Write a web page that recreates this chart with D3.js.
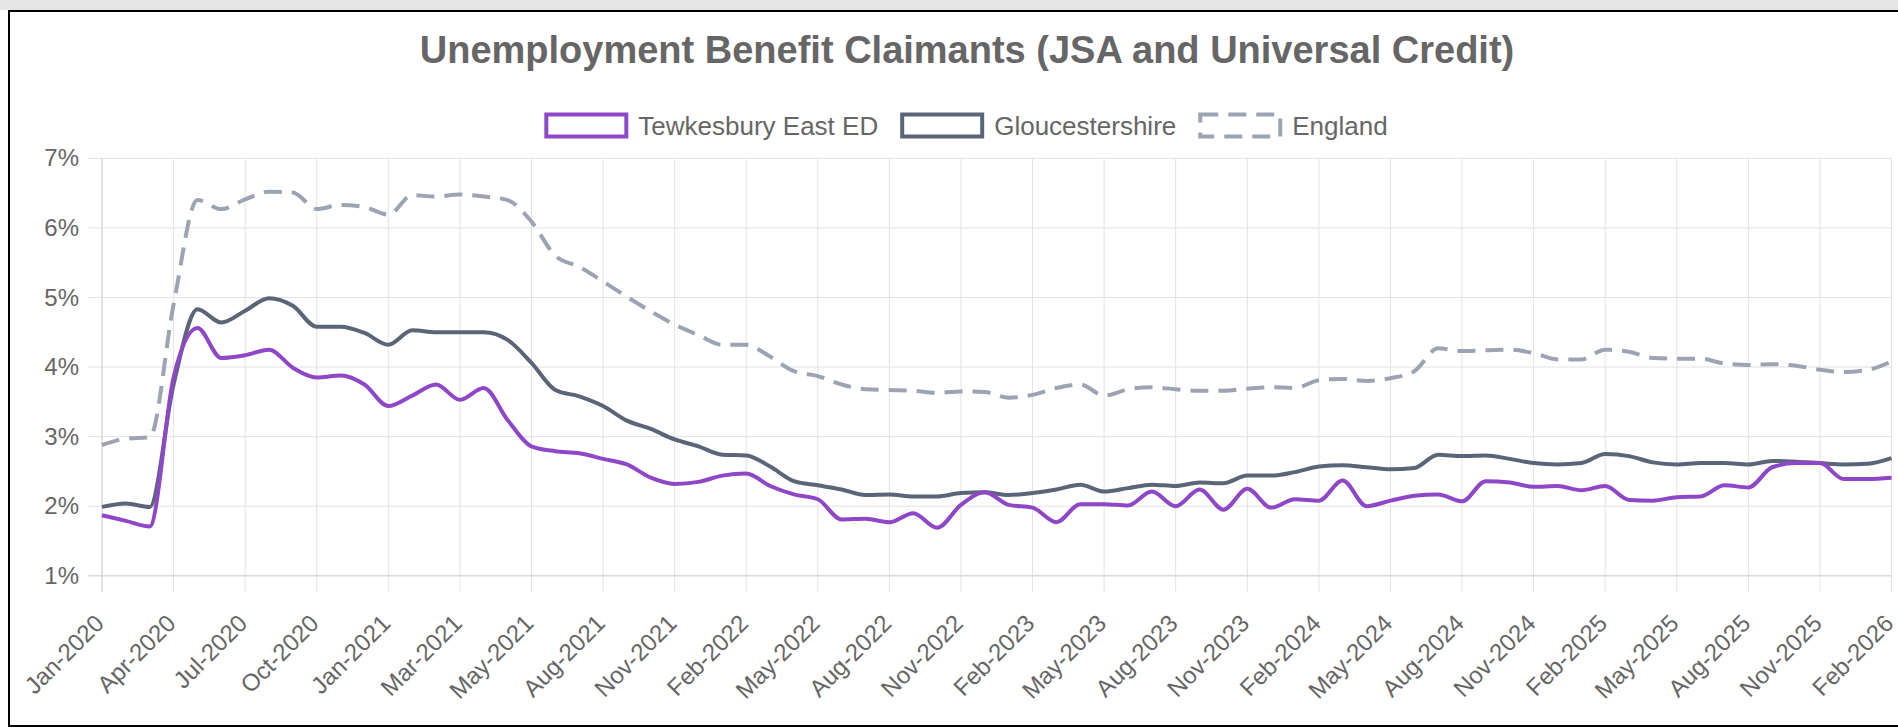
<!DOCTYPE html>
<html>
<head>
<meta charset="utf-8">
<script src="https://cdn.jsdelivr.net/npm/d3@7"></script>
<style>
  body { margin: 0; background: #fff; }
  svg { display: block; font-family: "Liberation Sans", Arial, Helvetica, sans-serif; }
</style>
</head>
<body>
<svg id="chart" width="1898" height="727"></svg>
<script>
// month labels as they sit on the category axis (76 points)
const labels = [
  "Jan-2020","Feb-2020","Mar-2020","Apr-2020","May-2020","Jun-2020","Jul-2020","Aug-2020","Sep-2020","Oct-2020","Nov-2020","Dec-2020",
  "Jan-2021","Feb-2021","Feb-2021","Mar-2021","Apr-2021","Apr-2021","May-2021","Jun-2021","Jul-2021","Aug-2021","Sep-2021","Oct-2021",
  "Nov-2021","Dec-2021","Jan-2022","Feb-2022","Mar-2022","Apr-2022","May-2022","Jun-2022","Jul-2022","Aug-2022","Sep-2022","Oct-2022",
  "Nov-2022","Dec-2022","Jan-2023","Feb-2023","Mar-2023","Apr-2023","May-2023","Jun-2023","Jul-2023","Aug-2023","Sep-2023","Oct-2023",
  "Nov-2023","Dec-2023","Jan-2024","Feb-2024","Mar-2024","Apr-2024","May-2024","Jun-2024","Jul-2024","Aug-2024","Sep-2024","Oct-2024",
  "Nov-2024","Dec-2024","Jan-2025","Feb-2025","Mar-2025","Apr-2025","May-2025","Jun-2025","Jul-2025","Aug-2025","Sep-2025","Oct-2025",
  "Nov-2025","Dec-2025","Jan-2026","Feb-2026"
];

const tewkesbury = [
  1.87, 1.79, 1.71, 3.85, 4.56, 4.13, 4.17, 4.25, 3.99, 3.85, 3.88, 3.75,
  3.44, 3.59, 3.75, 3.53, 3.70, 3.24, 2.86, 2.79, 2.76, 2.68, 2.60, 2.41,
  2.32, 2.35, 2.44, 2.47, 2.29, 2.17, 2.10, 1.81, 1.82, 1.77, 1.90, 1.69,
  2.02, 2.20, 2.02, 1.98, 1.77, 2.03, 2.03, 2.01, 2.21, 2.00, 2.24, 1.95,
  2.25, 1.98, 2.10, 2.08, 2.37, 2.00, 2.08, 2.15, 2.17, 2.07, 2.36, 2.34,
  2.28, 2.29, 2.23, 2.29, 2.09, 2.08, 2.13, 2.14, 2.30, 2.27, 2.56, 2.62,
  2.62, 2.39, 2.39, 2.41
];

const gloucestershire = [
  1.99, 2.04, 1.99, 3.75, 4.83, 4.64, 4.81, 4.99, 4.88, 4.58, 4.58, 4.49,
  4.32, 4.53, 4.50, 4.50, 4.50, 4.39, 4.06, 3.67, 3.58, 3.44, 3.23, 3.11,
  2.96, 2.86, 2.74, 2.73, 2.57, 2.36, 2.30, 2.24, 2.16, 2.17, 2.14, 2.14,
  2.19, 2.20, 2.16, 2.19, 2.24, 2.31, 2.21, 2.26, 2.31, 2.29, 2.34, 2.33,
  2.44, 2.44, 2.49, 2.57, 2.59, 2.56, 2.53, 2.55, 2.74, 2.72, 2.73, 2.68,
  2.62, 2.60, 2.62, 2.75, 2.72, 2.63, 2.60, 2.62, 2.62, 2.60, 2.65, 2.64,
  2.62, 2.60, 2.61, 2.69
];

const england = [
  2.88, 2.97, 2.99, 4.90, 6.40, 6.27, 6.41, 6.52, 6.51, 6.27, 6.33, 6.30,
  6.19, 6.47, 6.45, 6.48, 6.45, 6.40, 6.09, 5.60, 5.44, 5.23, 5.01, 4.80,
  4.61, 4.46, 4.32, 4.32, 4.15, 3.94, 3.87, 3.75, 3.68, 3.67, 3.66, 3.63,
  3.65, 3.64, 3.56, 3.60, 3.70, 3.75, 3.59, 3.68, 3.71, 3.68, 3.66, 3.66,
  3.69, 3.71, 3.70, 3.81, 3.83, 3.80, 3.84, 3.94, 4.27, 4.23, 4.24, 4.25,
  4.20, 4.11, 4.11, 4.25, 4.22, 4.13, 4.12, 4.12, 4.05, 4.03, 4.04, 4.02,
  3.96, 3.93, 3.96, 4.08
];

const seriesNames = ["Tewkesbury East ED", "Gloucestershire", "England"];
const yTicks = [1, 2, 3, 4, 5, 6, 7];

const series = [
  {name: seriesNames[0], values: tewkesbury, color: "#8e47c7", dash: null},
  {name: seriesNames[1], values: gloucestershire, color: "#5b6578", dash: null},
  {name: seriesNames[2], values: england, color: "#9ca4b3", dash: "18,10"}
];

const plot = {left: 102, right: 1891.5, top: 158.3, bottom: 575.8};
const textColor = "#666";
const gridColor = "#e3e3e3";

const svg = d3.select("#chart");

// frame like the host page
svg.append("rect").attr("x", 0).attr("y", 0).attr("width", 1898).attr("height", 10).attr("fill", "#e6e6e6");
svg.append("rect").attr("x", 9).attr("y", 11).attr("width", 1896).attr("height", 715)
  .attr("fill", "none").attr("stroke", "#000").attr("stroke-width", 2);

const x = d3.scaleLinear().domain([0, labels.length - 1]).range([plot.left, plot.right]);
const y = d3.scaleLinear().domain([1, 7]).range([plot.bottom, plot.top]);

// grid
const xTickIdx = d3.range(0, labels.length, 3);
svg.append("g").selectAll("line").data(xTickIdx).join("line")
  .attr("x1", d => x(d)).attr("x2", d => x(d))
  .attr("y1", plot.top).attr("y2", plot.bottom + 16)
  .attr("stroke", gridColor).attr("stroke-width", 1);
svg.append("g").selectAll("line").data(yTicks).join("line")
  .attr("x1", plot.left - 14).attr("x2", plot.right)
  .attr("y1", d => y(d)).attr("y2", d => y(d))
  .attr("stroke", gridColor).attr("stroke-width", 1);
// axis borders a touch darker
svg.append("line").attr("x1", plot.left).attr("x2", plot.left).attr("y1", plot.top).attr("y2", plot.bottom + 16)
  .attr("stroke", "#d4d4d4");
svg.append("line").attr("x1", plot.left - 14).attr("x2", plot.right).attr("y1", plot.bottom).attr("y2", plot.bottom)
  .attr("stroke", "#d4d4d4");

// y axis labels
const yAxis = svg.append("g")
  .attr("transform", `translate(${plot.left},0)`)
  .call(d3.axisLeft(y).tickValues(yTicks).tickFormat(d => d + "%").tickSize(14).tickPadding(9));
yAxis.select(".domain").remove();
yAxis.selectAll(".tick line").remove();
yAxis.selectAll("text").attr("fill", textColor).style("font-size", "24px")
  .attr("font-family", null);

// x axis labels, rotated
const xAxis = svg.append("g")
  .attr("transform", `translate(0,${plot.bottom})`)
  .call(d3.axisBottom(x).tickValues(xTickIdx).tickFormat(i => labels[i]).tickSize(16));
xAxis.select(".domain").remove();
xAxis.selectAll(".tick line").remove();
xAxis.selectAll("text")
  .attr("fill", textColor).style("font-size", "24px").attr("font-family", null)
  .attr("y", 0).attr("dy", null)
  .attr("text-anchor", "end")
  .attr("transform", "translate(3,49) rotate(-45)");

// lines
const line = d3.line().curve(d3.curveMonotoneX);
const lines = svg.append("g");
series.slice().reverse().forEach(s => {
  lines.append("path")
    .attr("d", line(s.values.map((v, i) => [x(i), y(v)])))
    .attr("fill", "none")
    .attr("stroke", s.color)
    .attr("stroke-width", 4)
    .attr("stroke-linejoin", "round")
    .attr("stroke-dasharray", s.dash);
});

// title
svg.append("text")
  .attr("x", 967).attr("y", 63)
  .attr("text-anchor", "middle")
  .attr("fill", textColor)
  .style("font-size", "38px").style("font-weight", "bold")
  .text("Unemployment Benefit Claimants (JSA and Universal Credit)");

// legend
const legend = svg.append("g");
const boxW = 80, boxH = 22, gap = 10, itemGap = 24;
const items = series.map(s => {
  const g = legend.append("g");
  g.append("rect").attr("width", boxW).attr("height", boxH)
    .attr("fill", "#fff").attr("stroke", s.color).attr("stroke-width", 4)
    .attr("stroke-dasharray", s.dash);
  const t = g.append("text").attr("x", boxW + 2 + gap).attr("y", boxH / 2).attr("dy", "0.35em")
    .attr("fill", textColor).style("font-size", "26px").text(s.name);
  return {g, w: boxW + 2 + gap + t.node().getComputedTextLength()};
});
const total = d3.sum(items, d => d.w) + itemGap * (items.length - 1);
let cx = 965 - total / 2 + 2;
items.forEach(it => {
  it.g.attr("transform", `translate(${cx},${114.5})`);
  cx += it.w + itemGap;
});
</script>
</body>
</html>
